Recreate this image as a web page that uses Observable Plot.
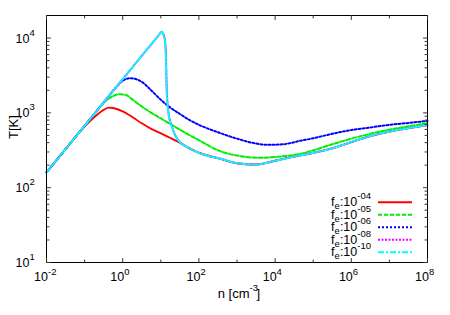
<!DOCTYPE html>
<html><head><meta charset="utf-8">
<script src="https://cdn.jsdelivr.net/npm/d3@7"></script>
<script src="https://cdn.jsdelivr.net/npm/@observablehq/plot@0.6"></script>
<style>body{margin:0;background:#fff} svg{display:block}</style>
</head><body><div id="chart"></div>
<script>
// ---- data ----
const legendExponents = ["-04", "-05", "-06", "-08", "-10"];
const colors = ["#ff0000", "#00ee00", "#0000ff", "#ff00ff", "#00ffff"];

// fe = 1e-4
const n_fe4 = [0.01, 0.0316, 0.0562, 0.1, 0.178, 0.316, 0.427, 0.562, 1, 1.78, 3.16, 5.62, 10, 17.8, 31.6, 56.2, 100, 316, 1000, 3162, 1e4, 3.16e4, 1e5, 3.16e5, 1e6, 3.16e6, 1e7, 3.16e7, 1e8];
const T_fe4 = [160, 328, 469, 653, 871, 1096, 1178, 1161, 1047, 881, 724, 610, 531, 462, 398, 335, 295, 248, 212, 204, 229, 260, 292, 335, 407, 490, 562, 624, 685];

// fe = 1e-5
const n_fe5 = [0.01, 0.0316, 0.1, 0.178, 0.316, 0.562, 0.84, 1.26, 1.78, 3.16, 5.62, 10, 17.8, 31.6, 100, 398, 1000, 3631, 1e4, 4.64e4, 3.16e5, 1e6, 3.16e6, 1e7, 3.16e7, 1e8];
const T_fe5 = [160, 328, 671, 961, 1365, 1679, 1774, 1718, 1514, 1216, 1000, 841, 708, 596, 431, 302, 269, 251, 257, 284, 380, 452, 525, 596, 661, 729];

// fe = 1e-6
const n_fe6 = [0.01, 0.0316, 0.1, 0.316, 0.631, 1, 1.58, 3.16, 5.62, 10, 17.8, 31.6, 56.2, 100, 316, 1000, 3162, 6310, 15850, 46450, 1e5, 3.16e5, 1e6, 3.16e6, 1e7, 3.16e7, 1e8];
const T_fe6 = [160, 328, 671, 1377, 2113, 2692, 2904, 2600, 1995, 1496, 1175, 966, 804, 692, 550, 452, 389, 374, 380, 424, 457, 525, 589, 638, 692, 733, 782];

// fe = 1e-8
const n_fe8 = [0.01, 0.1, 1, 3.16, 10, 10.4, 12.5, 13.6, 14.3, 16.1, 20.1, 27.0, 60.3, 165, 369, 1000, 3162, 1e4, 3.16e4, 1e5, 3.16e5, 1e6, 3.16e6, 1e7, 3.16e7, 1e8];
const T_fe8 = [160, 671, 2818, 5781, 11830, 12134, 10093, 6124, 2153, 971, 631, 450, 331, 267, 244, 212, 204, 229, 260, 292, 335, 407, 490, 562, 624, 685];

// fe = 1e-10
const n_fe10 = [0.01, 0.1, 1, 3.16, 10, 10.4, 12.5, 13.5, 14.1, 15.9, 19.9, 26.9, 60.3, 165, 369, 1000, 3162, 1e4, 3.16e4, 1e5, 3.16e5, 1e6, 3.16e6, 1e7, 3.16e7, 1e8];
const T_fe10 = [160, 671, 2818, 5781, 11830, 12134, 10093, 6124, 2153, 971, 631, 450, 331, 267, 244, 212, 204, 229, 260, 292, 335, 407, 490, 562, 624, 685];

// ticks
const xTickValues = [1e-2, 1, 1e2, 1e4, 1e6, 1e8];
const xTickExponents = ["-2", "0", "2", "4", "6", "8"];
const xMinorTicks = [1e-1, 1e1, 1e3, 1e5, 1e7];
const yTickValues = [10, 100, 1000, 10000];
const yTickExponents = ["1", "2", "3", "4"];
const yMinorTicks = [20,30,40,50,60,70,80,90,200,300,400,500,600,700,800,900,2000,3000,4000,5000,6000,7000,8000,9000];

// ---- build ----
const seriesN = [n_fe4, n_fe5, n_fe6, n_fe8, n_fe10];
const seriesT = [T_fe4, T_fe5, T_fe6, T_fe8, T_fe10];
const dashes = [null, "4,2", "2,2", "2,1.5", "6,2,2,2"];
const tables = seriesN.map((ns, k) => ns.map((n, i) => ({n, T: seriesT[k][i]})));

const tickUp = {draw(c, l) { c.moveTo(0, 0); c.lineTo(0, -l); }};
const tickDown = {draw(c, l) { c.moveTo(0, 0); c.lineTo(0, l); }};
const tickRight = {draw(c, l) { c.moveTo(0, 0); c.lineTo(l, 0); }};
const tickLeft = {draw(c, l) { c.moveTo(0, 0); c.lineTo(-l, 0); }};
const tk = (data, ch, anchor, len, shape) => Plot.vector(data, {[ch]: d => d, frameAnchor: anchor, length: len, shape, anchor: "start", stroke: "#333", strokeWidth: 1});

const FONT = "'Liberation Sans', Arial, Helvetica, sans-serif";

function legendMark(index, scales, values, dims) {
  const g = d3.create("svg:g").attr("font-family", FONT).attr("font-size", 12.5).attr("fill", "#000");
  const right = dims.width - dims.marginRight;
  const bottom = dims.height - dims.marginBottom;
  legendExponents.forEach((e, i) => {
    const y = bottom - 9.7 - (legendExponents.length - 1 - i) * 12.5;
    g.append("line").attr("x1", right - 49).attr("x2", right - 15).attr("y1", y).attr("y2", y)
      .attr("stroke", colors[i]).attr("stroke-width", 2).attr("stroke-dasharray", dashes[i]);
    const t = g.append("text").attr("x", right - 56).attr("y", y + 4).attr("text-anchor", "end");
    t.append("tspan").text("f");
    t.append("tspan").attr("font-size", 9.5).attr("dy", 3).text("e");
    t.append("tspan").attr("dy", -3).text(":10");
    t.append("tspan").attr("font-size", 9.5).attr("dy", -7).text(e);
  });
  return g.node();
}

const lineMarks = tables.map((tb, k) => Plot.line(tb, {
  x: "n", y: "T", stroke: colors[k], strokeWidth: k === 0 ? 1.8 : 2,
  strokeDasharray: dashes[k], curve: "monotone-x"
}));

const chart = Plot.plot({
  width: 450, height: 315,
  marginLeft: 46, marginRight: 23, marginTop: 15, marginBottom: 53,
  style: {fontFamily: FONT, background: "#fff", color: "#000", overflow: "visible"},
  x: {type: "log", domain: [1e-2, 1e8], axis: null},
  y: {type: "log", domain: [10, 2e4], axis: null},
  marks: [
    ...lineMarks,
    Plot.frame({stroke: "#000", strokeWidth: 1}),
    tk(xTickValues, "x", "bottom", 4, tickUp),
    tk(xMinorTicks, "x", "bottom", 2.5, tickUp),
    tk(xTickValues, "x", "top", 4, tickDown),
    tk(xMinorTicks, "x", "top", 2.5, tickDown),
    tk(yTickValues, "y", "left", 4, tickRight),
    tk(yMinorTicks, "y", "left", 2.5, tickRight),
    tk(yTickValues, "y", "right", 4, tickLeft),
    tk(yMinorTicks, "y", "right", 2.5, tickLeft),
    Plot.text(xTickValues, {x: d => d, frameAnchor: "bottom", text: () => "10", textAnchor: "end", lineAnchor: "bottom", dx: 1.5, dy: 18, fontSize: 12.5, fill: "#000"}),
    Plot.text(xTickValues, {x: d => d, frameAnchor: "bottom", text: (d, i) => xTickExponents[i], textAnchor: "start", lineAnchor: "bottom", dx: 1.5, dy: 12.5, fontSize: 9.5, fill: "#000"}),
    Plot.text(yTickValues, {y: d => d, frameAnchor: "left", text: () => "10", textAnchor: "end", lineAnchor: "bottom", dx: -17, dy: 4.5, fontSize: 12.5, fill: "#000"}),
    Plot.text(yTickValues, {y: d => d, frameAnchor: "left", text: (d, i) => yTickExponents[i], textAnchor: "start", lineAnchor: "bottom", dx: -17, dy: -2.5, fontSize: 9.5, fill: "#000"}),
    Plot.text(["T[K]"], {frameAnchor: "left", dx: -33, rotate: -90, fontSize: 13, fill: "#000"}),
    Plot.text(["n [cm"], {frameAnchor: "bottom", textAnchor: "end", lineAnchor: "bottom", dx: 12.5, dy: 35, fontSize: 13, fill: "#000"}),
    Plot.text(["-3"], {frameAnchor: "bottom", textAnchor: "start", lineAnchor: "bottom", dx: 12.5, dy: 28, fontSize: 9.5, fill: "#000"}),
    Plot.text(["]"], {frameAnchor: "bottom", textAnchor: "start", lineAnchor: "bottom", dx: 19.5, dy: 35, fontSize: 13, fill: "#000"}),
    legendMark
  ]
});
document.getElementById("chart").appendChild(chart);
</script>
</body></html>
